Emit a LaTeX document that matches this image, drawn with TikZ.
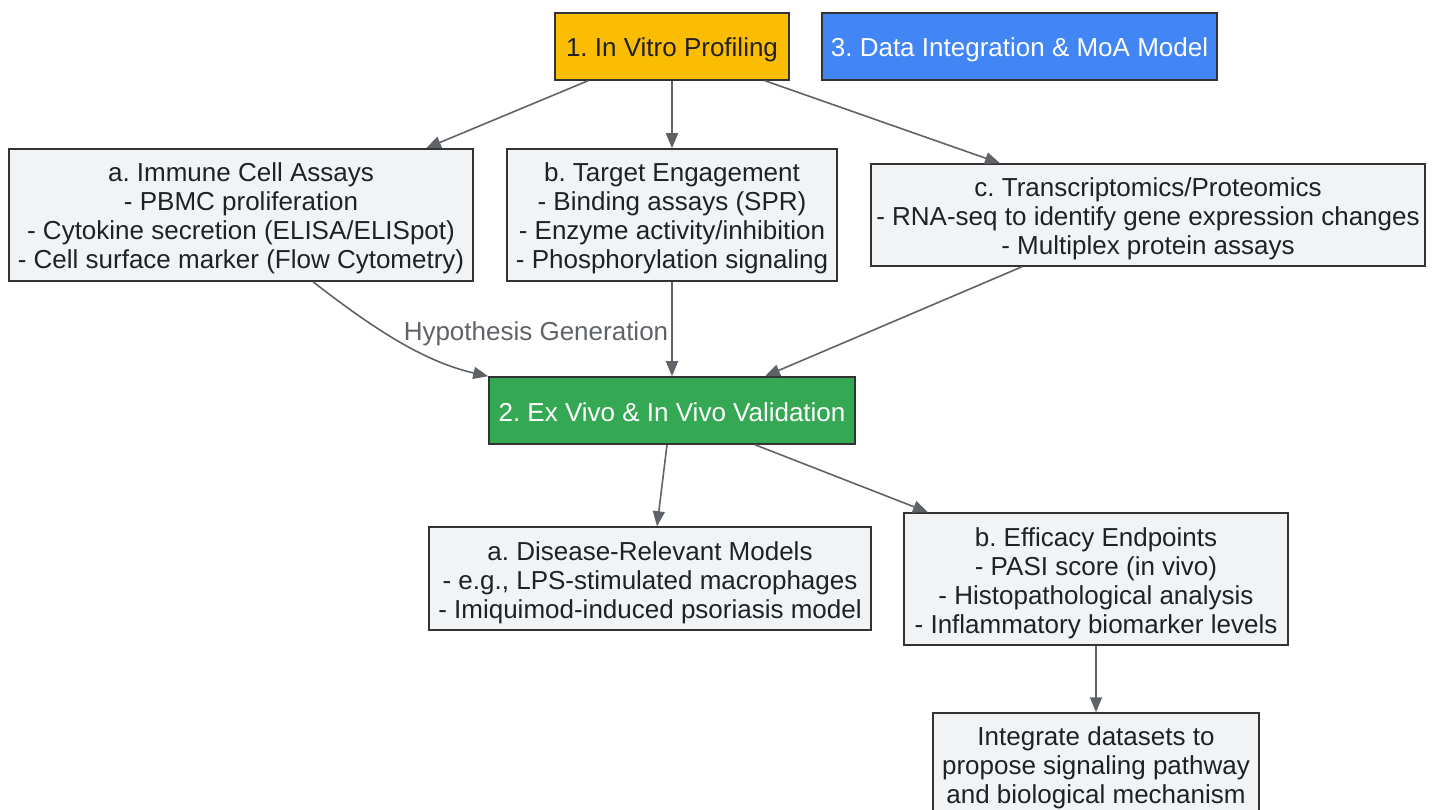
\documentclass[tikz,border=0pt]{standalone}
\usepackage{fontspec}
\setmainfont{Liberation Sans}
\usetikzlibrary{arrows.meta}
\frenchspacing
\definecolor{gold}{HTML}{FBBC04}
\definecolor{gblue}{HTML}{4285F4}
\definecolor{ggreen}{HTML}{34A853}
\definecolor{boxfill}{HTML}{F1F3F4}
\definecolor{boxline}{HTML}{333333}
\definecolor{edgecol}{HTML}{5F6368}
\definecolor{txt}{HTML}{202124}
\newcommand\mytop{\rule{0pt}{27pt}}
\newcommand\mybot{\rule[-6pt]{0pt}{6pt}}
\tikzset{
  box/.style={draw=boxline, line width=1.5pt, fill=boxfill, inner sep=0pt, align=center,
    text=txt, font=\fontsize{26}{29}\selectfont},
  edge/.style={draw=edgecol, line width=1.6pt, -{Triangle[length=15pt,width=12pt]}},
  lbl/.style={text=edgecol, font=\fontsize{26}{29}\selectfont, inner sep=0pt}
}
\begin{document}
\begin{tikzpicture}[x=1pt,y=-1pt]
\useasboundingbox (0,0) rectangle (1436,810);
\node[box, fill=gold, minimum width=234pt, minimum height=67pt] (invitro) at (672,46.5) {\mytop 1. In Vitro Profiling\mybot};
\node[box, fill=gblue, text=white, minimum width=395pt, minimum height=67pt] (data) at (1019.5,46.5) {\mytop 3. Data Integration \& MoA Model\mybot};
\node[box, minimum width=464pt, minimum height=132pt] (immune) at (241,215) {\mytop a. Immune Cell Assays\\- PBMC proliferation\\- Cytokine secretion (ELISA/ELISpot)\\- Cell surface marker (Flow Cytometry)\mybot};
\node[box, minimum width=330pt, minimum height=132pt] (target) at (672,215) {\mytop b. Target Engagement\\- Binding assays (SPR)\\- Enzyme activity/inhibition\\- Phosphorylation signaling\mybot};
\node[box, minimum width=554pt, minimum height=102pt] (transcr) at (1148,215) {\mytop c. Transcriptomics/Proteomics\\- RNA-seq to identify gene expression changes\\- Multiplex protein assays\mybot};
\node[box, fill=ggreen, text=white, minimum width=366pt, minimum height=67pt] (exvivo) at (672,410.5) {\mytop 2. Ex Vivo \& In Vivo Validation\mybot};
\node[box, minimum width=442pt, minimum height=103pt] (disease) at (650,578.5) {\mytop a. Disease-Relevant Models\\- e.g., LPS-stimulated macrophages\\- Imiquimod-induced psoriasis model\mybot};
\node[box, minimum width=384pt, minimum height=132pt] (efficacy) at (1096,579) {\mytop b. Efficacy Endpoints\\- PASI score (in vivo)\\- Histopathological analysis\\- Inflammatory biomarker levels\mybot};
\node[box, minimum width=326pt, minimum height=102pt] (integrate) at (1096,764) {\mytop Integrate datasets to\\propose signaling pathway\\and biological mechanism\mybot};

\draw[edge] ([xshift=-84pt]invitro.south) -- ([xshift=185pt]immune.north);
\draw[edge] (invitro.south) -- (target.north);
\draw[edge] ([xshift=93pt]invitro.south) -- ([xshift=-148pt]transcr.north);
\draw[edge] ([xshift=72pt]immune.south) .. controls (375,330) and (425,362) .. (exvivo.north west);
\node[lbl] (hyp) at (536,330) {\mytop Hypothesis Generation\mybot};
\draw[edge] (target.south) -- (exvivo.north);
\draw[edge] ([xshift=-126pt]transcr.south) -- ([xshift=93pt]exvivo.north);
\draw[edge] ([xshift=-5pt]exvivo.south) -- ([xshift=7pt]disease.north);
\draw[edge] ([xshift=83pt]exvivo.south) -- ([xshift=-168pt]efficacy.north);
\draw[edge] (efficacy.south) -- (integrate.north);
\end{tikzpicture}
\end{document}
